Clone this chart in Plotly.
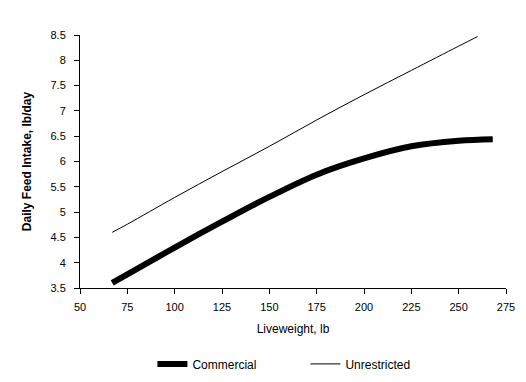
import plotly.graph_objects as go

# Commercial series
com_x = [67, 75, 100, 125, 150, 175, 200, 225, 250, 268]
com_y = [3.6, 3.77, 4.3, 4.81, 5.3, 5.74, 6.06, 6.3, 6.41, 6.44]

# Unrestricted series
unr_x = [67, 75, 100, 125, 150, 175, 200, 225, 250, 260]
unr_y = [4.6, 4.76, 5.29, 5.8, 6.3, 6.82, 7.32, 7.8, 8.28, 8.47]

x_ticks = [50, 75, 100, 125, 150, 175, 200, 225, 250, 275]
y_ticks = [3.5, 4, 4.5, 5, 5.5, 6, 6.5, 7, 7.5, 8, 8.5]

FONT = "Liberation Sans, Arial, sans-serif"

fig = go.Figure()
fig.add_trace(go.Scatter(x=com_x, y=com_y, mode="lines", name="Commercial",
                         line=dict(color="black", width=6, shape="spline", smoothing=1)))
fig.add_trace(go.Scatter(x=unr_x, y=unr_y, mode="lines", name="Unrestricted",
                         line=dict(color="black", width=1, shape="spline", smoothing=1)))

fig.update_layout(
    width=526, height=382,
    margin=dict(l=72, r=28, t=27, b=100),
    paper_bgcolor="white", plot_bgcolor="white",
    font=dict(family=FONT, size=11, color="black"),
    showlegend=True,
    legend=dict(orientation="h", x=0.17, xanchor="left", y=-0.3, yanchor="middle",
                font=dict(size=12), itemwidth=30, entrywidth=108, tracegroupgap=0),
    xaxis=dict(range=[50, 275], tickvals=x_ticks, ticktext=[str(v) for v in x_ticks],
               showgrid=False, zeroline=False, showline=True, linecolor="black", linewidth=1,
               ticks="outside", ticklen=5, tickcolor="black", ticklabelstandoff=4,
               title=dict(text="Liveweight, lb", font=dict(size=12), standoff=12)),
    yaxis=dict(range=[3.5, 8.5], tickvals=y_ticks, ticktext=[("%g" % v) for v in y_ticks],
               showgrid=False, zeroline=False, showline=True, linecolor="black", linewidth=1,
               ticks="outside", ticklen=5, tickcolor="black", ticklabelstandoff=6,
               title=dict(text="<b>Daily Feed Intake, lb/day</b>", font=dict(size=12), standoff=16)),
)

fig.write_html("out.html")
